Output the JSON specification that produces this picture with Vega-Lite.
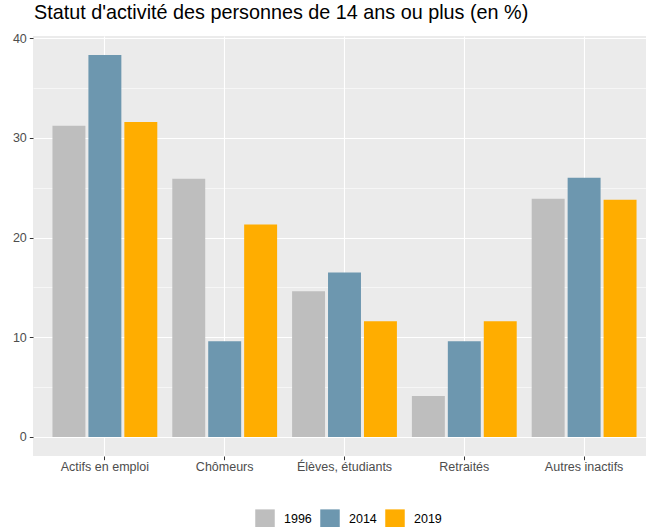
{
  "$schema": "https://vega.github.io/schema/vega-lite/v6.json",
  "width": 613,
  "height": 420,
  "autosize": {"type": "none"},
  "padding": {"left": 33, "top": 36, "right": 0, "bottom": 71},
  "title": {"text": "Statut d'activité des personnes de 14 ans ou plus (en %)", "anchor": "start", "frame": "group", "fontSize": 19.8, "font": "Liberation Sans", "fontWeight": "normal", "color": "#000000", "offset": 9, "dx": 1},
  "config": {"view": {"fill": "#EBEBEB", "stroke": null}, "font": "Liberation Sans"},
  "data": {"values": [
    {"statut": "Actifs en emploi", "annee": "1996", "pct": 31.2},
    {"statut": "Actifs en emploi", "annee": "2014", "pct": 38.3},
    {"statut": "Actifs en emploi", "annee": "2019", "pct": 31.6},
    {"statut": "Chômeurs", "annee": "1996", "pct": 25.9},
    {"statut": "Chômeurs", "annee": "2014", "pct": 9.6},
    {"statut": "Chômeurs", "annee": "2019", "pct": 21.3},
    {"statut": "Élèves, étudiants", "annee": "1996", "pct": 14.6},
    {"statut": "Élèves, étudiants", "annee": "2014", "pct": 16.5},
    {"statut": "Élèves, étudiants", "annee": "2019", "pct": 11.6},
    {"statut": "Retraités", "annee": "1996", "pct": 4.1},
    {"statut": "Retraités", "annee": "2014", "pct": 9.6},
    {"statut": "Retraités", "annee": "2019", "pct": 11.6},
    {"statut": "Autres inactifs", "annee": "1996", "pct": 23.9},
    {"statut": "Autres inactifs", "annee": "2014", "pct": 26.0},
    {"statut": "Autres inactifs", "annee": "2019", "pct": 23.8}
  ]},
  "mark": {"type": "bar"},
  "encoding": {
    "x": {
      "field": "statut", "type": "nominal",
      "sort": ["Actifs en emploi", "Chômeurs", "Élèves, étudiants", "Retraités", "Autres inactifs"],
      "scale": {"range": [0, 623], "paddingInner": 0.1, "paddingOuter": 0.15},
      "axis": {"title": null, "labelAngle": 0, "domain": false, "grid": true, "gridColor": "#FFFFFF", "gridWidth": 1.1, "tickColor": "#333333", "tickSize": 3.7, "tickWidth": 1, "labelColor": "#4D4D4D", "labelFontSize": 12.5, "labelPadding": 1}
    },
    "xOffset": {"field": "annee", "type": "nominal", "scale": {"paddingInner": 0.0833, "paddingOuter": 0.0417}},
    "y": {
      "field": "pct", "type": "quantitative",
      "scale": {"domain": [-1.915, 40.215], "nice": false, "zero": false},
      "axis": {
        "title": null, "domain": false,
        "values": [0, 5, 10, 15, 20, 25, 30, 35, 40],
        "labelExpr": "datum.value % 10 == 0 ? datum.label : ''",
        "tickOpacity": {"condition": {"test": "datum.value % 10 == 0", "value": 1}, "value": 0},
        "gridWidth": {"condition": {"test": "datum.value % 10 == 0", "value": 1.1}, "value": 0.55},
        "gridColor": "#FFFFFF",
        "tickColor": "#333333", "tickSize": 3.7, "tickWidth": 1,
        "labelColor": "#4D4D4D", "labelFontSize": 12.5, "labelPadding": 3
      }
    },
    "y2": {"datum": 0},
    "color": {
      "field": "annee", "type": "nominal",
      "scale": {"domain": ["1996", "2014", "2019"], "range": ["#BEBEBE", "#6D97AF", "#FFAD00"]},
      "legend": {"title": null, "orient": "none", "legendX": 222, "legendY": 473, "direction": "horizontal", "symbolType": "square", "symbolSize": 380, "symbolStrokeWidth": 0, "symbolOpacity": 1, "labelFontSize": 12.5, "labelColor": "#000000", "labelOffset": 9, "columnPadding": 8}
    }
  }
}
